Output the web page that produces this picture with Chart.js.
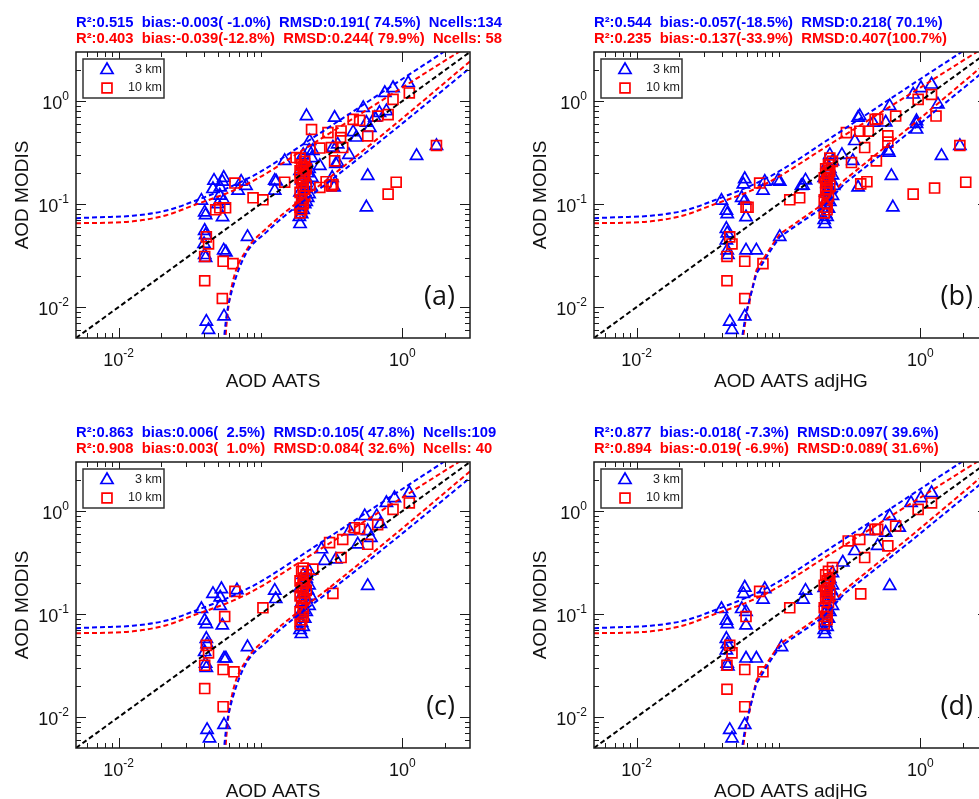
<!DOCTYPE html>
<html><head><meta charset="utf-8">
<script src="https://cdn.jsdelivr.net/npm/chart.js@4/dist/chart.umd.min.js"></script>
<style>
html,body{margin:0;padding:0;background:#fff;overflow:hidden;width:979px;height:799px;}
#wrap{position:relative;width:979px;height:799px;overflow:hidden;background:#fff;}
canvas{position:absolute;}
</style></head><body>
<div id="wrap">
<canvas id="ca" width="518" height="400" style="left:0;top:0"></canvas>
<canvas id="cb" width="490" height="400" style="left:518px;top:0"></canvas>
<canvas id="cc" width="518" height="400" style="left:0;top:410px"></canvas>
<canvas id="cd" width="490" height="400" style="left:518px;top:410px"></canvas>
</div>
<script>
// ---------- tick values / labels (base, exponent) ----------
const xTickValues = [0.01, 1];
const xTickLabels = [['10', '-2'], ['10', '0']];
const yTickValues = [0.01, 0.1, 1];
const yTickLabels = [['10', '-2'], ['10', '-1'], ['10', '0']];
const xMinorTicks = [0.006,0.007,0.008,0.009,0.02,0.03,0.04,0.05,0.06,0.07,0.08,0.09,0.1,2];
const yMinorTicks = [0.006,0.007,0.008,0.009,0.02,0.03,0.04,0.05,0.06,0.07,0.08,0.09,0.2,0.3,0.4,0.5,0.6,0.7,0.8,0.9,2];

const seriesLabels = ['3 km', '10 km'];
const panelLetters = ['(a)', '(b)', '(c)', '(d)'];
const xTitles = ['AOD AATS', 'AOD AATS adjHG', 'AOD AATS', 'AOD AATS adjHG'];
const yTitle = 'AOD MODIS';

const statsA = ['R²:0.515  bias:-0.003( -1.0%)  RMSD:0.191( 74.5%)  Ncells:134', 'R²:0.403  bias:-0.039(-12.8%)  RMSD:0.244( 79.9%)  Ncells: 58'];
const statsB = ['R²:0.544  bias:-0.057(-18.5%)  RMSD:0.218( 70.1%)', 'R²:0.235  bias:-0.137(-33.9%)  RMSD:0.407(100.7%)'];
const statsC = ['R²:0.863  bias:0.006(  2.5%)  RMSD:0.105( 47.8%)  Ncells:109', 'R²:0.908  bias:0.003(  1.0%)  RMSD:0.084( 32.6%)  Ncells: 40'];
const statsD = ['R²:0.877  bias:-0.018( -7.3%)  RMSD:0.097( 39.6%)', 'R²:0.894  bias:-0.019( -6.9%)  RMSD:0.089( 31.6%)'];

// ---------- reference / envelope lines ----------
const oneToOne = [[0.005,0.005],[3,3]];
const blueUpper = [[0.005,0.073],[0.0074,0.0745],[0.0126,0.077],[0.0217,0.0865],[0.0373,0.112],[0.064,0.151],[0.098,0.203],[0.234,0.44],[0.45,0.795],[1.0,1.64],[1.98,3.04],[3,4.5]];
const redUpper = [[0.005,0.065],[0.0126,0.068],[0.0217,0.078],[0.0334,0.0968],[0.064,0.135],[0.098,0.181],[0.2,0.336],[0.5,0.743],[1,1.355],[2.54,3.04],[3,3.5]];
const blueLower = [[0.0549,0.0045],[0.0575,0.0081],[0.064,0.0157],[0.079,0.033],[0.11,0.0534],[0.144,0.0745],[0.189,0.1],[0.29,0.157],[0.86,0.513],[3,2.1]];
const redLower = [[0.0562,0.0045],[0.0585,0.0085],[0.064,0.018],[0.08,0.036],[0.11,0.058],[0.189,0.108],[0.29,0.17],[0.86,0.573],[3,2.43]];
const blueLowerHG = [[0.0545,0.0045],[0.059,0.0087],[0.0698,0.0211],[0.0866,0.0342],[0.102,0.048],[0.206,0.093],[0.29,0.157],[0.86,0.513],[3,2.1]];
const redLowerHG = [[0.0555,0.0045],[0.0598,0.009],[0.07,0.023],[0.087,0.037],[0.102,0.051],[0.206,0.1],[0.29,0.17],[0.86,0.573],[3,2.43]];

// ---------- panel (a) ----------
const a3km = [[0.0383,0.108],[0.0404,0.083],[0.041,0.078],[0.0404,0.055],[0.041,0.05],[0.040,0.041],[0.0404,0.032],[0.041,0.030],[0.0415,0.0072],[0.043,0.006],[0.0462,0.14],[0.047,0.169],[0.0516,0.121],[0.0538,0.165],[0.055,0.18],[0.054,0.0746],[0.055,0.108],[0.055,0.0355],[0.057,0.034],[0.0553,0.0081],[0.0695,0.135],[0.073,0.165],[0.079,0.15],[0.081,0.048],[0.126,0.135],[0.129,0.166],[0.148,0.263],[0.05,0.1],[0.052,0.145],
[0.19,0.064],[0.188,0.075],[0.195,0.08],[0.2,0.088],[0.19,0.095],[0.205,0.1],[0.21,0.105],[0.195,0.11],[0.215,0.115],[0.2,0.12],[0.22,0.125],[0.19,0.13],[0.205,0.14],[0.225,0.15],[0.21,0.16],[0.195,0.17],[0.23,0.18],[0.2,0.19],[0.215,0.2],[0.19,0.21],[0.22,0.22],[0.205,0.24],[0.21,0.26],[0.23,0.28],[0.2,0.3],[0.22,0.33],[0.222,0.41],[0.211,0.716],
[0.33,0.145],[0.32,0.18],[0.34,0.245],[0.333,0.69],[0.474,0.443],[0.53,0.86],[0.558,0.617],[0.64,0.69],[0.558,0.093],[0.57,0.188],[0.752,1.2],[0.86,1.34],[1.1,1.5],[1.26,0.294],[1.74,0.367],[0.772,0.8],[0.69,0.77],[0.126,0.169],[0.35,0.253],[0.35,0.38],[0.59,0.55],[0.324,0.354],[0.234,0.329],[0.262,0.235],[0.45,0.5],[0.42,0.3]];
const a10km = [[0.0404,0.018],[0.0415,0.048],[0.043,0.041],[0.0404,0.031],[0.0483,0.088],[0.0516,0.092],[0.0567,0.092],[0.0538,0.0121],[0.0545,0.0278],[0.064,0.0264],[0.066,0.16],[0.0886,0.115],[0.104,0.11],[0.148,0.163],[0.229,0.53],[0.262,0.145],[0.29,0.165],[0.324,0.155],[0.794,0.125],[0.905,0.163],[1.74,0.37],
[0.299,0.494],[0.37,0.513],[0.45,0.665],[0.5,0.65],[0.367,0.443],[0.316,0.354],[0.262,0.35],[0.333,0.263],[0.38,0.354],[0.57,0.459],[0.67,0.716],[0.794,0.74],[0.86,1.04],[1.12,1.2],[0.178,0.283],[0.316,0.15],
[0.19,0.082],[0.195,0.088],[0.19,0.093],[0.2,0.1],[0.195,0.11],[0.205,0.12],[0.19,0.13],[0.2,0.14],[0.21,0.15],[0.195,0.16],[0.2,0.17],[0.19,0.18],[0.205,0.19],[0.2,0.2],[0.19,0.21],[0.21,0.22],[0.2,0.23],[0.195,0.24],[0.205,0.26],[0.19,0.28]];

// ---------- panel (b) ----------
const b3km = [[0.0396,0.108],[0.0429,0.0865],[0.0435,0.08],[0.0429,0.0575],[0.0435,0.052],[0.0429,0.0443],[0.0435,0.0355],[0.044,0.032],[0.0453,0.0072],[0.047,0.006],[0.0578,0.175],[0.0565,0.155],[0.055,0.115],[0.0578,0.108],[0.059,0.0745],[0.059,0.0355],[0.0698,0.0355],[0.0578,0.0081],[0.0777,0.135],[0.08,0.165],[0.102,0.165],[0.102,0.048],[0.149,0.151],[0.155,0.17],[0.212,0.064],[0.099,0.169],[0.145,0.15],
[0.21,0.07],[0.22,0.075],[0.215,0.08],[0.225,0.09],[0.21,0.1],[0.23,0.105],[0.22,0.11],[0.24,0.12],[0.215,0.13],[0.23,0.14],[0.245,0.15],[0.22,0.16],[0.235,0.17],[0.21,0.18],[0.24,0.19],[0.225,0.2],[0.23,0.22],[0.22,0.24],[0.24,0.26],[0.23,0.3],
[0.364,0.69],[0.364,0.145],[0.625,0.188],[0.64,0.093],[0.6,0.316],[0.94,0.53],[0.94,0.6],[1.41,0.294],[1.9,0.367],[0.374,0.716],[0.345,0.41],[0.465,0.617],[0.608,0.895],[0.57,0.62],[0.592,0.329],[0.94,0.64],[0.89,1.16],[1.01,1.34],[1.2,1.45],[1.33,0.93],[0.334,0.263],[0.28,0.3]];
const b10km = [[0.0433,0.018],[0.0453,0.048],[0.047,0.041],[0.0433,0.031],[0.059,0.093],[0.061,0.093],[0.0578,0.0278],[0.0578,0.0121],[0.0777,0.0264],[0.0736,0.16],[0.12,0.11],[0.141,0.115],[0.301,0.494],[0.327,0.253],[0.38,0.157],[0.42,0.165],[0.89,0.125],[1.26,0.143],[1.9,0.37],[2.09,0.163],[1.29,0.716],[0.374,0.51],[0.43,0.51],[0.48,0.665],[0.5,0.67],[0.67,0.716],[0.59,0.46],[0.59,0.40],[0.405,0.354],[0.49,0.263],[0.965,1.04],[1.2,1.16],
[0.21,0.082],[0.22,0.088],[0.215,0.093],[0.22,0.1],[0.21,0.11],[0.225,0.12],[0.215,0.13],[0.22,0.14],[0.23,0.15],[0.215,0.16],[0.22,0.17],[0.21,0.18],[0.225,0.19],[0.22,0.2],[0.23,0.21],[0.215,0.22],[0.225,0.24],[0.24,0.26],[0.23,0.28]];

// ---------- panel (c) ----------
const c3km = [[0.0383,0.112],[0.0404,0.0865],[0.0415,0.08],[0.0415,0.0575],[0.042,0.051],[0.0404,0.0428],[0.041,0.033],[0.0415,0.030],[0.042,0.0075],[0.0437,0.0062],[0.0462,0.157],[0.053,0.175],[0.052,0.145],[0.052,0.12],[0.0538,0.0775],[0.0553,0.037],[0.057,0.037],[0.0553,0.0084],[0.0682,0.171],[0.081,0.0478],[0.126,0.169],[0.128,0.14],[0.194,0.064],
[0.19,0.07],[0.2,0.075],[0.195,0.082],[0.205,0.09],[0.19,0.1],[0.21,0.105],[0.2,0.11],[0.22,0.12],[0.195,0.13],[0.21,0.14],[0.225,0.15],[0.2,0.16],[0.215,0.17],[0.19,0.18],[0.22,0.19],[0.205,0.2],[0.21,0.22],[0.2,0.24],[0.211,0.235],[0.22,0.26],
[0.57,0.188],[0.269,0.426],[0.283,0.329],[0.34,0.34],[0.425,0.64],[0.485,0.476],[0.543,0.895],[0.57,0.64],[0.66,0.895],[0.772,1.2],[0.88,1.34],[1.12,1.5],[0.6,0.55],[0.7,0.75]];
const c10km = [[0.0404,0.0189],[0.0415,0.0496],[0.043,0.042],[0.0404,0.0318],[0.0559,0.0946],[0.0545,0.0126],[0.0545,0.0289],[0.065,0.0275],[0.066,0.166],[0.104,0.115],[0.324,0.159],[0.234,0.273],[0.307,0.494],[0.38,0.53],[0.37,0.354],[0.57,0.476],[0.46,0.69],[0.5,0.67],[0.67,0.74],[0.86,1.04],[1.12,1.2],
[0.19,0.08],[0.195,0.088],[0.2,0.095],[0.19,0.105],[0.2,0.115],[0.195,0.13],[0.205,0.14],[0.19,0.15],[0.2,0.16],[0.21,0.17],[0.195,0.18],[0.2,0.19],[0.205,0.2],[0.19,0.21],[0.2,0.22],[0.21,0.24],[0.195,0.26],[0.2,0.28]];

// ---------- panel (d) ----------
const d3km = [[0.0396,0.112],[0.0429,0.0865],[0.0435,0.08],[0.0429,0.0575],[0.0435,0.051],[0.0429,0.0443],[0.0435,0.033],[0.044,0.031],[0.0453,0.0075],[0.047,0.0062],[0.0578,0.181],[0.0565,0.157],[0.055,0.112],[0.059,0.105],[0.059,0.0775],[0.059,0.037],[0.0698,0.037],[0.0578,0.0084],[0.0777,0.138],[0.08,0.175],[0.105,0.0478],[0.149,0.138],[0.155,0.169],[0.212,0.064],[0.608,0.188],
[0.21,0.07],[0.22,0.075],[0.215,0.082],[0.225,0.09],[0.21,0.1],[0.23,0.105],[0.22,0.11],[0.24,0.12],[0.215,0.13],[0.23,0.14],[0.245,0.15],[0.22,0.16],[0.235,0.17],[0.21,0.18],[0.24,0.19],[0.225,0.2],[0.23,0.22],[0.24,0.25],
[0.284,0.317],[0.345,0.41],[0.43,0.64],[0.5,0.46],[0.57,0.617],[0.608,0.895],[0.71,0.69],[0.86,1.2],[1.01,1.34],[1.2,1.5]];
const d10km = [[0.0433,0.0186],[0.0453,0.0496],[0.047,0.042],[0.0433,0.0318],[0.059,0.0946],[0.0578,0.0289],[0.0578,0.0126],[0.0777,0.0275],[0.0736,0.166],[0.12,0.115],[0.38,0.157],[0.31,0.513],[0.374,0.53],[0.48,0.665],[0.5,0.665],[0.405,0.354],[0.59,0.46],[0.67,0.716],[0.965,1.04],[1.2,1.2],[0.24,0.283],
[0.21,0.08],[0.22,0.088],[0.215,0.095],[0.22,0.105],[0.21,0.115],[0.225,0.13],[0.215,0.14],[0.22,0.15],[0.23,0.16],[0.215,0.17],[0.22,0.18],[0.21,0.19],[0.225,0.2],[0.22,0.21],[0.23,0.22],[0.215,0.24],[0.225,0.26]];

// ---------- styling ----------
const BLUE = '#0000ff', RED = '#ff0000', INK = '#1a1a1a';
const AXIS_FONT = "'Liberation Sans', Arial, sans-serif";

const toXY = pts => pts.map(p => ({x: p[0], y: p[1]}));

function scatterSet(label, pts, style, color, order) {
  return { label, data: toXY(pts), showLine: false, pointStyle: style, pointRadius: 7,
    borderWidth: 1.7, pointBorderWidth: 1.7, borderColor: color, pointBorderColor: color,
    backgroundColor: 'rgba(0,0,0,0)', pointBackgroundColor: 'rgba(0,0,0,0)', order, legendItem: true };
}
function lineSet(label, pts, color, smooth) {
  return { type: 'line', label, data: toXY(pts), showLine: true, borderColor: color, borderWidth: 2,
    borderDash: [5, 3], pointRadius: 0, fill: false, tension: 0,
    cubicInterpolationMode: smooth ? 'monotone' : 'default', clip: 0, order: 0 };
}

function drawPow(ctx, base, exp, x, y, align) {
  // x,y: anchor; y is baseline of the base text
  ctx.font = "18px " + AXIS_FONT;
  const wb = ctx.measureText(base).width;
  ctx.font = "12px " + AXIS_FONT;
  const we = ctx.measureText(exp).width;
  const w = wb + we;
  const x0 = align === 'center' ? x - w / 2 : x - w;
  ctx.textAlign = 'left'; ctx.textBaseline = 'alphabetic';
  ctx.font = "18px " + AXIS_FONT;
  ctx.fillText(base, x0, y);
  ctx.font = "12px " + AXIS_FONT;
  ctx.fillText(exp, x0 + wb, y - 9);
}

const decor = {
  id: 'decor',
  afterDatasetsDraw(chart, args, opts) {
    const {ctx, chartArea: a} = chart;
    const x = chart.scales.x, y = chart.scales.y;
    ctx.save();
    ctx.strokeStyle = INK; ctx.lineWidth = 1;
    ctx.beginPath();
    [[xTickValues, 10], [xMinorTicks, 5]].forEach(([vals, len]) => vals.forEach(v => {
      const px = Math.round(x.getPixelForValue(v)) + 0.5;
      ctx.moveTo(px, a.bottom); ctx.lineTo(px, a.bottom - len);
      ctx.moveTo(px, a.top); ctx.lineTo(px, a.top + len);
    }));
    [[yTickValues, 10], [yMinorTicks, 5]].forEach(([vals, len]) => vals.forEach(v => {
      const py = Math.round(y.getPixelForValue(v)) + 0.5;
      ctx.moveTo(a.left, py); ctx.lineTo(a.left + len, py);
      ctx.moveTo(a.right, py); ctx.lineTo(a.right - len, py);
    }));
    ctx.stroke();
    ctx.lineWidth = 1.5;
    ctx.strokeRect(a.left, a.top, a.right - a.left, a.bottom - a.top);

    // tick labels (10 with superscript exponent) placed through the scales
    ctx.fillStyle = '#111';
    xTickValues.forEach((v, i) => {
      drawPow(ctx, xTickLabels[i][0], xTickLabels[i][1], x.getPixelForValue(v), a.bottom + 28, 'center');
    });
    yTickValues.forEach((v, i) => {
      drawPow(ctx, yTickLabels[i][0], yTickLabels[i][1], a.left - 7, y.getPixelForValue(v) + 8, 'right');
    });

    // legend
    const lx = a.left + 7, ly = a.top + 7;
    ctx.fillStyle = '#fff';
    ctx.fillRect(lx, ly, 81, 39);
    ctx.strokeStyle = '#333'; ctx.lineWidth = 1.5;
    ctx.strokeRect(lx, ly, 81, 39);
    const items = chart.data.datasets.filter(d => d.legendItem);
    items.forEach((d, i) => {
      const cx = lx + 24, cy = ly + 11 + i * 18, r = 7;
      ctx.strokeStyle = d.borderColor; ctx.lineWidth = 1.7;
      ctx.beginPath();
      if (d.pointStyle === 'triangle') {
        ctx.moveTo(cx, cy - r); ctx.lineTo(cx + r * 0.866, cy + r / 2); ctx.lineTo(cx - r * 0.866, cy + r / 2); ctx.closePath();
      } else {
        const h = r * Math.SQRT1_2; ctx.rect(cx - h, cy - h, 2 * h, 2 * h);
      }
      ctx.stroke();
      ctx.fillStyle = '#222'; ctx.font = "12.5px " + AXIS_FONT;
      ctx.textAlign = 'right'; ctx.textBaseline = 'middle';
      ctx.fillText(d.label, lx + 79, cy);
    });

    // panel letter
    ctx.fillStyle = '#111'; ctx.font = "27px 'Open Sans', sans-serif";
    ctx.textAlign = 'right'; ctx.textBaseline = 'middle';
    ctx.fillText(opts.letter, a.right - 15, a.bottom - 41);

    // header statistics
    ctx.font = "bold 14.8px " + AXIS_FONT; ctx.textAlign = 'left'; ctx.textBaseline = 'middle';
    ctx.fillStyle = BLUE; ctx.fillText(opts.stats[0], a.left, 22.5);
    ctx.fillStyle = RED; ctx.fillText(opts.stats[1], a.left, 38.5);
    ctx.restore();
  }
};

function makeChart(id, idx, tri, sq, stats, lowerB, lowerR, smoothLower, padRight) {
  return new Chart(document.getElementById(id), {
    type: 'scatter',
    data: { datasets: [
      lineSet('1:1', oneToOne, '#000', false),
      lineSet('3 km upper', blueUpper, BLUE, true),
      lineSet('3 km lower', lowerB, BLUE, smoothLower),
      lineSet('10 km upper', redUpper, RED, true),
      lineSet('10 km lower', lowerR, RED, smoothLower),
      scatterSet(seriesLabels[0], tri, 'triangle', BLUE, 2),
      scatterSet(seriesLabels[1], sq, 'rect', RED, 1)
    ]},
    options: {
      responsive: false, animation: false, events: [],
      layout: { padding: { top: 52, right: padRight, left: 0, bottom: 0 } },
      plugins: {
        legend: { display: false }, tooltip: { enabled: false }, title: { display: false },
        decor: { letter: panelLetters[idx], stats }
      },
      scales: {
        x: {
          type: 'logarithmic', position: 'bottom', min: 0.005, max: 3,
          afterBuildTicks: s => { s.ticks = xTickValues.map(v => ({value: v, major: true})); },
          afterFit: s => { s.height = 62; },
          grid: { display: false, drawTicks: false }, border: { display: false },
          ticks: { display: false },
          title: { display: true, text: xTitles[idx], color: '#111', font: { family: AXIS_FONT, size: 19 }, padding: { top: 0, bottom: 6.6 } }
        },
        y: {
          type: 'logarithmic', position: 'left', min: 0.005, max: 3,
          afterBuildTicks: s => { s.ticks = yTickValues.map(v => ({value: v, major: true})); },
          afterFit: s => { s.width = 76; },
          grid: { display: false, drawTicks: false }, border: { display: false },
          ticks: { display: false },
          title: { display: true, text: yTitle, color: '#111', font: { family: AXIS_FONT, size: 19 }, padding: { top: 11, bottom: 11 } }
        }
      }
    },
    plugins: [decor]
  });
}

makeChart('ca', 0, a3km, a10km, statsA, blueLower, redLower, true, 48);
makeChart('cb', 1, b3km, b10km, statsB, blueLowerHG, redLowerHG, false, 20);
makeChart('cc', 2, c3km, c10km, statsC, blueLower, redLower, true, 48);
makeChart('cd', 3, d3km, d10km, statsD, blueLowerHG, redLowerHG, false, 20);
</script>
</body></html>
